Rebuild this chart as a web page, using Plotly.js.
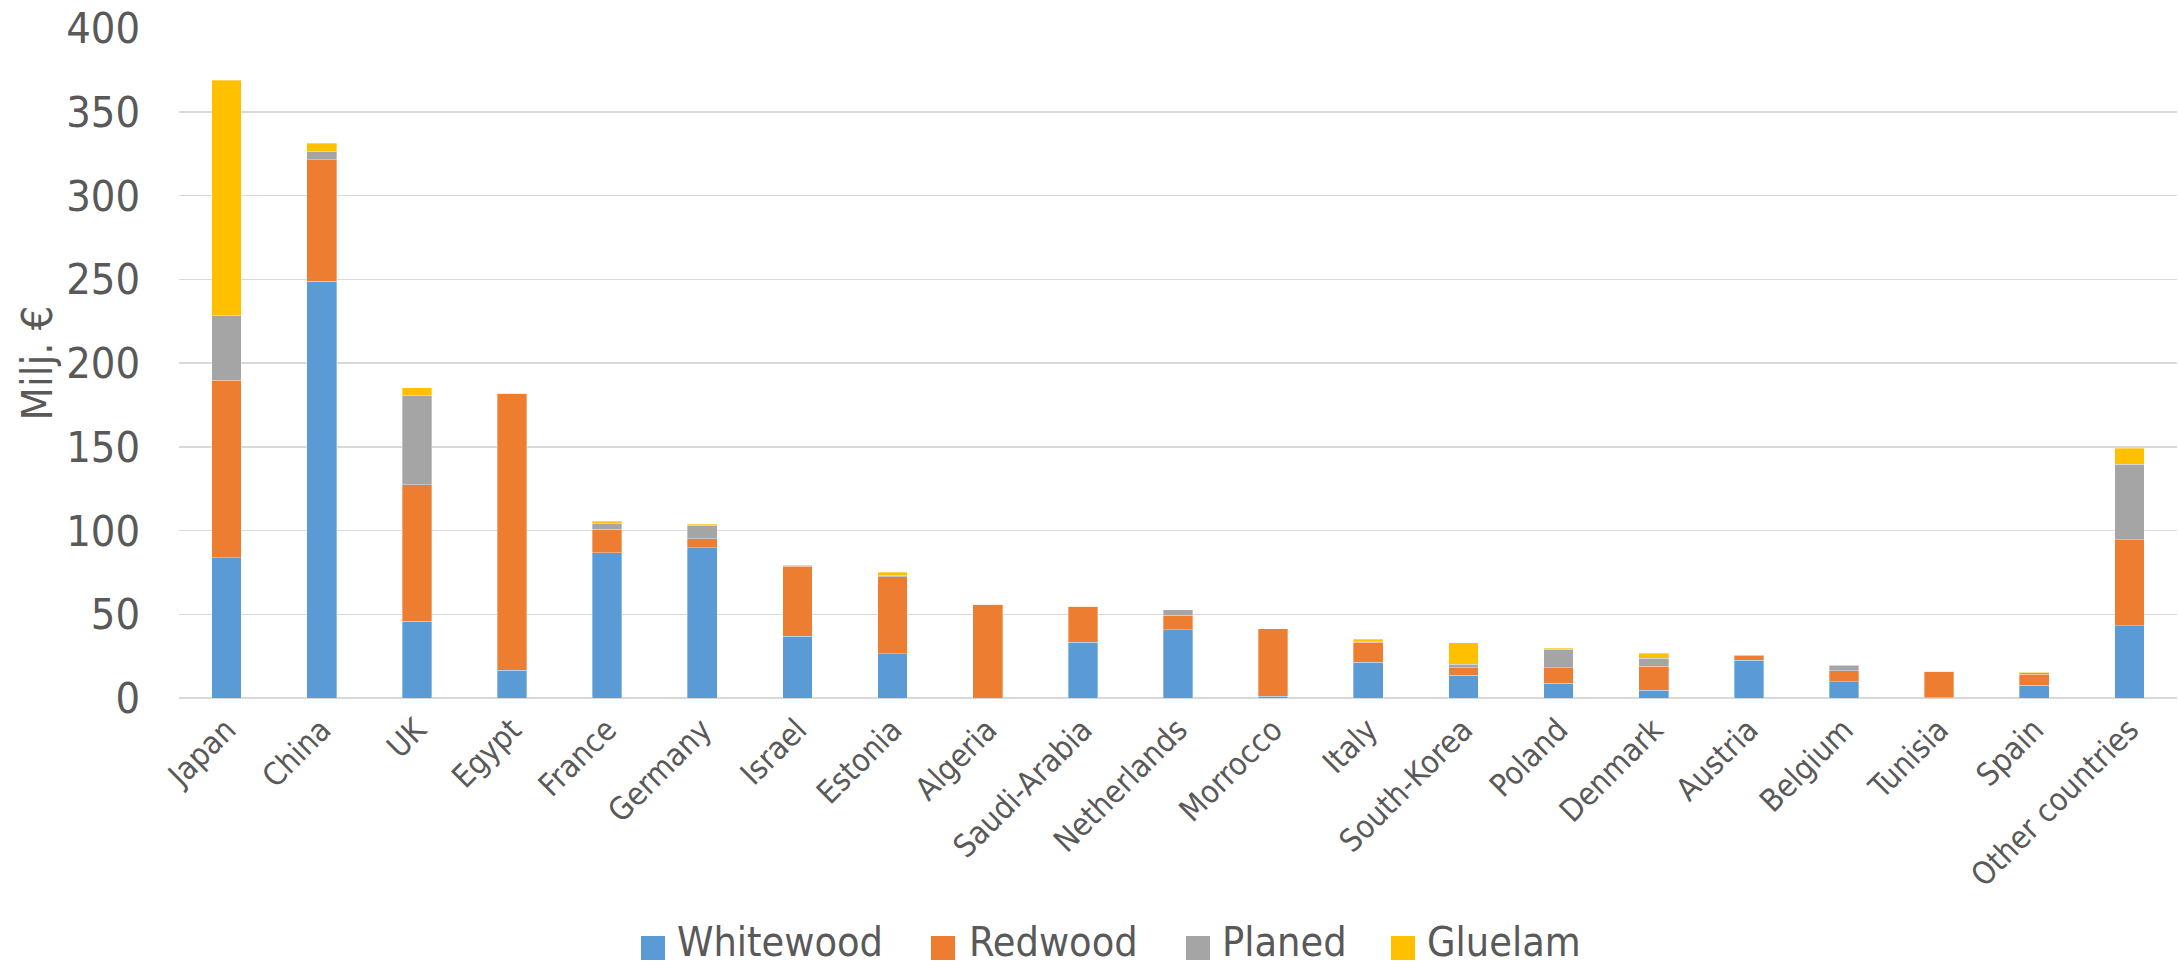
<!DOCTYPE html>
<html>
<head>
<meta charset="utf-8">
<script src="https://cdn.plot.ly/plotly-3.0.1.min.js"></script>
<style>
  html, body { margin: 0; padding: 0; background: #ffffff; }
  #chart { width: 2178px; height: 970px; }
</style>
</head>
<body>
<div id="chart"></div>
<script>
// ---- data (Milj. €) ----
const categories = ["Japan", "China", "UK", "Egypt", "France", "Germany", "Israel", "Estonia",
  "Algeria", "Saudi-Arabia", "Netherlands", "Morrocco", "Italy", "South-Korea", "Poland",
  "Denmark", "Austria", "Belgium", "Tunisia", "Spain", "Other countries"];
const seriesNames = ["Whitewood", "Redwood", "Planed", "Gluelam"];
const whitewood = [83.8, 248.7, 45.8, 16.6, 86.6, 89.8, 36.8, 26.4, 0, 33.4, 40.8, 1.0, 21.2, 13.6, 8.7, 4.7, 22.6, 9.7, 0.3, 7.7, 43.2];
const redwood   = [105.9, 72.6, 81.5, 164.9, 14.2, 5.4, 42.0, 45.9, 55.9, 21.5, 8.7, 40.4, 12.2, 4.5, 9.5, 14.3, 2.8, 6.6, 15.7, 6.5, 51.4];
const planed    = [38.6, 5.0, 53.2, 0.3, 3.2, 7.6, 0.5, 1.0, 0, 0, 3.2, 0, 0.3, 2.1, 10.8, 4.8, 0.3, 3.1, 0, 0.9, 44.9];
const gluelam   = [140.4, 4.9, 4.6, 0, 1.4, 1.0, 0.4, 1.8, 0, 0, 0, 0, 1.3, 12.8, 0.6, 2.8, 0, 0.5, 0, 0.2, 9.5];
const yTickVals = [0, 50, 100, 150, 200, 250, 300, 350, 400];
const yTitle = "Milj. €";

// ---- styling ----
const colors = ["#5B9BD5", "#ED7D31", "#A5A5A5", "#FFC000"];
const FONT = "'DejaVu Sans Condensed', Tahoma, 'DejaVu Sans', sans-serif";
const TEXT = "#595959";
const W = 2178, H = 970;
const M = { l: 179, r: 1, t: 28, b: 272 };
const plotW = W - M.l - M.r, plotH = H - M.t - M.b;
const px2x = p => (p - M.l) / plotW;
const px2y = p => (H - M.b - p) / plotH;

const values = [whitewood, redwood, planed, gluelam];
const traces = seriesNames.map((name, i) => ({
  type: "bar",
  name: name,
  x: categories,
  y: values[i],
  marker: { color: colors[i], line: { color: "rgba(255,255,255,0.55)", width: 0.6 } },
  showlegend: false,
  hoverinfo: "x+y+name"
}));

// custom legend (large square swatches like the original)
const legendItems = [
  { sw: 641, tx: 677 },
  { sw: 931, tx: 969 },
  { sw: 1186, tx: 1222 },
  { sw: 1391, tx: 1427 }
];
const legendY = 948;
const shapes = legendItems.map((it, i) => ({
  type: "rect", xref: "paper", yref: "paper",
  x0: px2x(it.sw), x1: px2x(it.sw + 24),
  y0: px2y(legendY + 12), y1: px2y(legendY - 12),
  fillcolor: colors[i], line: { width: 0 }
}));
const annotations = legendItems.map((it, i) => ({
  xref: "paper", yref: "paper",
  x: px2x(it.tx - 2), y: px2y(942.5),
  xanchor: "left", yanchor: "middle",
  text: seriesNames[i], showarrow: false,
  font: { family: FONT, size: 41, color: TEXT }
}));

const layout = {
  width: W, height: H,
  margin: M,
  paper_bgcolor: "#ffffff",
  plot_bgcolor: "#ffffff",
  barmode: "stack",
  bargap: 0.688,
  showlegend: false,
  font: { family: FONT, color: TEXT },
  xaxis: {
    type: "category",
    tickangle: -45,
    tickfont: { family: FONT, size: 31.5, color: TEXT },
    showgrid: false,
    showline: false,
    zeroline: false,
    ticks: "",
    ticklabelstandoff: 6,
    automargin: false
  },
  yaxis: {
    range: [0, 400],
    tickvals: yTickVals,
    ticktext: yTickVals.map(String),
    tickfont: { family: FONT, size: 43, color: TEXT },
    showgrid: true,
    gridcolor: "#D9D9D9",
    gridwidth: 1.5,
    zeroline: true,
    zerolinecolor: "#D9D9D9",
    zerolinewidth: 1.5,
    showline: false,
    ticks: "",
    ticklabelstandoff: 38,
    automargin: false,
    title: { text: yTitle, font: { family: FONT, size: 43, color: TEXT }, standoff: 0 }
  },
  shapes: shapes,
  annotations: annotations
};

Plotly.newPlot("chart", traces, layout, { staticPlot: true, displayModeBar: false });
</script>
</body>
</html>
